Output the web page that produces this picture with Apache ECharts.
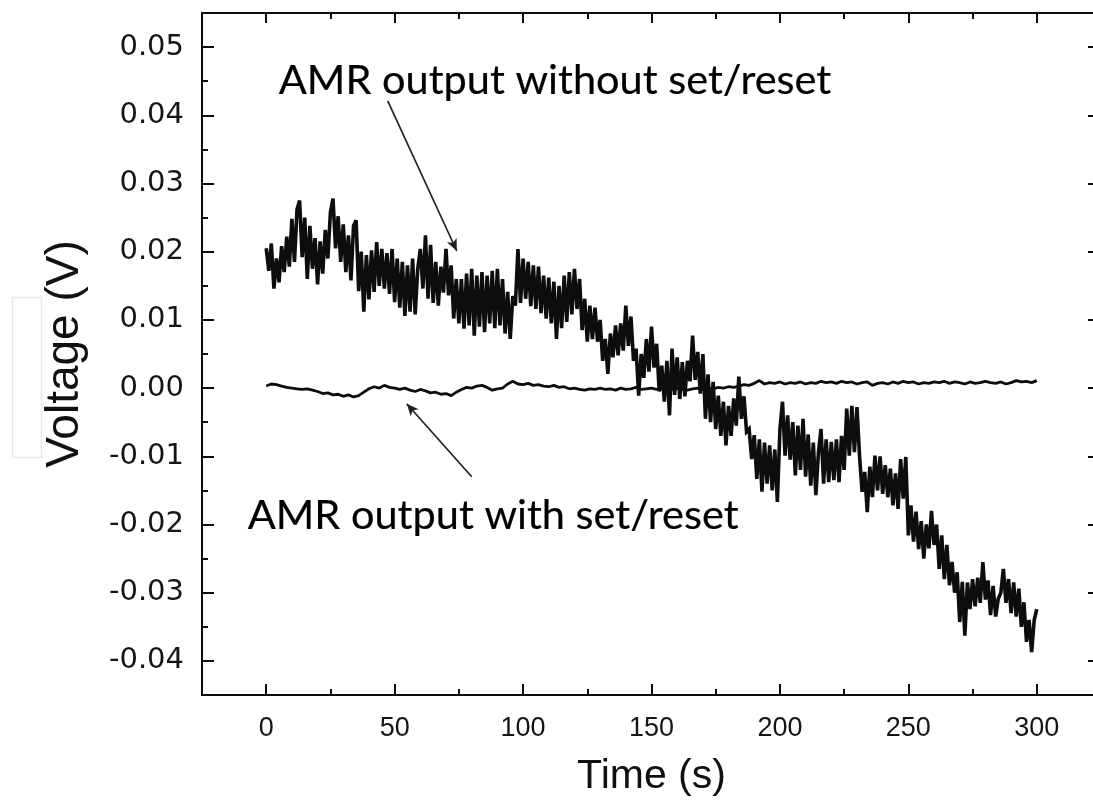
<!DOCTYPE html>
<html><head><meta charset="utf-8">
<script src="https://cdn.jsdelivr.net/npm/echarts@6/dist/echarts.min.js"></script>
<style>html,body{margin:0;padding:0;background:#fff;overflow:hidden;width:1093px;height:804px;}#c{width:1112px;height:804px;}</style>
</head><body><div id="c"></div>
<script>
// ---- tick values ----
const xMajorTicks = [0, 50, 100, 150, 200, 250, 300];
const xMinorTicks = [25, 75, 125, 175, 225, 275];
const yMajorTicks = [-0.04, -0.03, -0.02, -0.01, 0, 0.01, 0.02, 0.03, 0.04, 0.05];
const yMinorTicks = [-0.035, -0.025, -0.015, -0.005, 0.005, 0.015, 0.025, 0.035, 0.045];

// ---- series: AMR output without set/reset (V), sampled every 1 s from t = 0 ----
const withoutStep = 1;
const withoutSetReset = [
  0.0205,0.0172,0.0212,0.0146,0.0190,0.0155,0.0208,0.0170,0.0222,0.0178,
  0.0248,0.0185,0.0262,0.0275,0.0192,0.0250,0.0160,0.0238,0.0175,0.0220,
  0.0152,0.0215,0.0168,0.0232,0.0190,0.0258,0.0278,0.0205,0.0252,0.0185,
  0.0240,0.0170,0.0224,0.0158,0.0238,0.0246,0.0142,0.0200,0.0112,0.0195,
  0.0130,0.0202,0.0141,0.0214,0.0150,0.0204,0.0146,0.0198,0.0138,0.0204,
  0.0126,0.0190,0.0118,0.0185,0.0106,0.0180,0.0112,0.0190,0.0108,0.0175,
  0.0204,0.0146,0.0224,0.0131,0.0210,0.0125,0.0185,0.0121,0.0178,0.0140,
  0.0204,0.0136,0.0180,0.0102,0.0160,0.0095,0.0160,0.0087,0.0168,0.0092,
  0.0175,0.0077,0.0165,0.0090,0.0170,0.0082,0.0165,0.0095,0.0172,0.0088,
  0.0175,0.0092,0.0160,0.0080,0.0141,0.0072,0.0135,0.0121,0.0204,0.0125,
  0.0190,0.0131,0.0185,0.0120,0.0180,0.0116,0.0178,0.0110,0.0165,0.0102,
  0.0162,0.0095,0.0156,0.0072,0.0150,0.0088,0.0165,0.0097,0.0170,0.0108,
  0.0175,0.0116,0.0160,0.0085,0.0131,0.0068,0.0121,0.0072,0.0118,0.0068,
  0.0100,0.0040,0.0072,0.0021,0.0080,0.0045,0.0092,0.0048,0.0095,0.0055,
  0.0121,0.0062,0.0105,0.0040,0.0058,-0.0011,0.0050,0.0015,0.0072,0.0024,
  0.0090,0.0030,0.0065,-0.0005,0.0033,-0.0020,0.0040,-0.0040,0.0058,-0.0010,
  0.0045,-0.0016,0.0038,-0.0012,0.0040,0.0010,0.0077,0.0012,0.0053,-0.0008,
  0.0050,-0.0045,0.0020,-0.0050,0.0009,-0.0060,-0.0011,-0.0070,-0.0020,-0.0084,
  -0.0026,-0.0070,-0.0015,-0.0055,0.0017,-0.0045,-0.0012,-0.0064,-0.0060,-0.0104,
  -0.0069,-0.0133,-0.0075,-0.0152,-0.0080,-0.0140,-0.0084,-0.0150,-0.0090,-0.0167,
  -0.0060,-0.0020,-0.0099,-0.0040,-0.0105,-0.0050,-0.0128,-0.0055,-0.0120,-0.0045,
  -0.0130,-0.0068,-0.0143,-0.0080,-0.0157,-0.0094,-0.0060,-0.0140,-0.0075,-0.0138,
  -0.0079,-0.0135,-0.0075,-0.0138,-0.0070,-0.0120,-0.0030,-0.0099,-0.0026,-0.0094,
  -0.0028,-0.0100,-0.0152,-0.0123,-0.0182,-0.0115,-0.0160,-0.0099,-0.0150,-0.0100,
  -0.0155,-0.0113,-0.0160,-0.0118,-0.0172,-0.0125,-0.0177,-0.0104,-0.0162,-0.0101,
  -0.0216,-0.0172,-0.0225,-0.0181,-0.0236,-0.0195,-0.0250,-0.0200,-0.0235,-0.0180,
  -0.0230,-0.0200,-0.0265,-0.0216,-0.0280,-0.0230,-0.0289,-0.0255,-0.0300,-0.0270,
  -0.0343,-0.0284,-0.0363,-0.0285,-0.0324,-0.0280,-0.0320,-0.0278,-0.0315,-0.0255,
  -0.0310,-0.0282,-0.0333,-0.0290,-0.0335,-0.0309,-0.0300,-0.0265,-0.0315,-0.0280,
  -0.0330,-0.0285,-0.0335,-0.0294,-0.0350,-0.0314,-0.0372,-0.0340,-0.0387,-0.0340,
  -0.0324
];

// ---- series: AMR output with set/reset (V), sampled every 2 s from t = 0 ----
const withStep = 2;
const withSetReset = [
  0.0003,0.0006,0.0005,0.0003,0.0001,0.0000,-0.0001,-0.0002,-0.0001,-0.0003,
  -0.0005,-0.0008,-0.0007,-0.0010,-0.0009,-0.0012,-0.0010,-0.0013,-0.0011,-0.0006,
  -0.0001,0.0002,0.0000,0.0004,0.0001,0.0000,-0.0002,0.0000,-0.0003,-0.0005,
  -0.0002,-0.0004,-0.0007,-0.0006,-0.0009,-0.0008,-0.0011,-0.0006,-0.0002,0.0001,
  0.0000,0.0003,0.0004,0.0001,-0.0003,-0.0001,0.0000,0.0006,0.0010,0.0006,
  0.0005,0.0007,0.0004,0.0005,0.0003,0.0002,0.0004,0.0001,0.0002,-0.0001,
  0.0000,-0.0002,-0.0003,-0.0001,-0.0002,0.0000,-0.0002,-0.0001,-0.0003,0.0000,
  -0.0002,-0.0001,0.0001,-0.0002,-0.0001,0.0000,-0.0002,-0.0001,-0.0003,-0.0002,
  0.0000,-0.0002,-0.0003,-0.0001,0.0000,-0.0002,0.0000,-0.0001,0.0001,0.0000,
  0.0002,0.0001,0.0003,0.0005,0.0004,0.0007,0.0011,0.0006,0.0008,0.0007,
  0.0009,0.0006,0.0008,0.0007,0.0009,0.0006,0.0008,0.0007,0.0010,0.0008,
  0.0009,0.0007,0.0010,0.0008,0.0009,0.0006,0.0008,0.0009,0.0004,0.0007,
  0.0008,0.0006,0.0009,0.0007,0.0010,0.0008,0.0009,0.0006,0.0008,0.0007,
  0.0009,0.0008,0.0010,0.0007,0.0009,0.0008,0.0006,0.0009,0.0007,0.0008,
  0.0010,0.0008,0.0007,0.0009,0.0006,0.0008,0.0011,0.0009,0.0010,0.0008,
  0.0011
];

// ---- annotations ----
const annotationTexts = ['AMR output without set/reset', 'AMR output with set/reset'];
const annotationAnchors = [[4.5, 0.0451], [-7.6, -0.0187]];
const arrowFrom = [[47.3, 0.0421], [80.0, -0.0130]];
const arrowTo = [[74.2, 0.0201], [54.7, -0.0023]];

const xTitle = 'Time (s)';
const yTitle = 'Voltage (V)';

// ---- build ----
const ink = '#0d0d0d';
const withoutData = withoutSetReset.map((v, i) => [i * withoutStep, v]);
const withData = withSetReset.map((v, i) => [i * withStep, v]);

const axisFont = 'Liberation Sans, Arial, sans-serif';
const X_MIN = -25, X_MAX = 325, Y_MIN = -0.045, Y_MAX = 0.055;

function xAxisDef(position, ticks, len, showLine, showLabel, name) {
  return {
    type: 'value', position, min: X_MIN, max: X_MAX, gridIndex: 0,
    splitLine: { show: false },
    axisLine: { show: showLine, onZero: false, lineStyle: { color: ink, width: 2 } },
    axisTick: { show: true, inside: true, length: len, customValues: ticks, lineStyle: { color: ink, width: 2 } },
    axisLabel: showLabel ? { show: true, customValues: ticks, fontFamily: axisFont, fontSize: 27, color: '#151515', margin: 20 } : { show: false },
    name: name || '', nameLocation: 'middle', nameGap: 61,
    nameTextStyle: { fontFamily: axisFont, fontSize: 41, color: '#111' }
  };
}
function yAxisDef(position, ticks, len, showLine, showLabel, name) {
  return {
    type: 'value', position, min: Y_MIN, max: Y_MAX, gridIndex: 0,
    splitLine: { show: false },
    axisLine: { show: showLine, onZero: false, lineStyle: { color: ink, width: 2 } },
    axisTick: { show: true, inside: true, length: len, customValues: ticks, lineStyle: { color: ink, width: 2 } },
    axisLabel: showLabel ? { show: true, customValues: ticks, fontFamily: 'DejaVu Sans, sans-serif', fontSize: 29, color: '#151515', margin: 18,
      formatter: v => v.toFixed(2) } : { show: false },
    name: name || '', nameLocation: 'middle', nameGap: 114, nameRotate: 90,
    nameTextStyle: { fontFamily: axisFont, fontSize: 46, color: '#111' }
  };
}

const chart = echarts.init(document.getElementById('c'), null, { renderer: 'canvas' });
chart.setOption({
  animation: false,
  backgroundColor: '#fff',
  grid: { left: 202, top: 13, width: 899, height: 682, containLabel: false },
  xAxis: [
    xAxisDef('bottom', xMajorTicks, 11, true, true, xTitle),
    xAxisDef('bottom', xMinorTicks, 6, false, false),
    xAxisDef('top', xMajorTicks, 10, true, false),
    xAxisDef('top', xMinorTicks, 6, false, false)
  ],
  yAxis: [
    yAxisDef('left', yMajorTicks, 12, true, true, yTitle),
    yAxisDef('left', yMinorTicks, 6, false, false),
    yAxisDef('right', yMajorTicks, 13, false, false)
  ],
  graphic: [
    { type: 'rect', left: 10, top: 295, shape: { width: 29, height: 160 }, style: { fill: 'none', stroke: '#e8e8e8', lineWidth: 1.5 } }
  ],
  series: [
    {
      type: 'line', name: 'without set/reset', data: withoutData, xAxisIndex: 0, yAxisIndex: 0,
      showSymbol: false, symbol: 'none', lineStyle: { color: ink, width: 3.6, join: 'miter', miterLimit: 3 }, z: 3,
      markLine: {
        silent: true, symbol: ['none', 'arrow'], symbolSize: [8, 12],
        lineStyle: { color: '#222', width: 1.7, type: 'solid' }, label: { show: false },
        data: arrowFrom.map((f, i) => [{ coord: f }, { coord: arrowTo[i] }])
      }
    },
    {
      type: 'line', name: 'with set/reset', data: withData, xAxisIndex: 0, yAxisIndex: 0,
      showSymbol: false, symbol: 'none', lineStyle: { color: ink, width: 2.8 }, z: 4
    },
    {
      type: 'scatter', name: 'annotations', xAxisIndex: 0, yAxisIndex: 0, silent: true,
      symbolSize: 2, itemStyle: { color: 'rgba(0,0,0,0)' }, z: 5,
      labelLayout: { hideOverlap: false },
      data: annotationTexts.map((t, i) => ({ name: t, value: annotationAnchors[i] })),
      label: { show: true, position: 'right', distance: 0, formatter: '{b}', opacity: 1,
        fontFamily: 'Lato, Open Sans, sans-serif', fontSize: 41.5, color: '#000',
        textBorderColor: '#000', textBorderWidth: 0.2 }
    }
  ]
});
</script></body></html>
